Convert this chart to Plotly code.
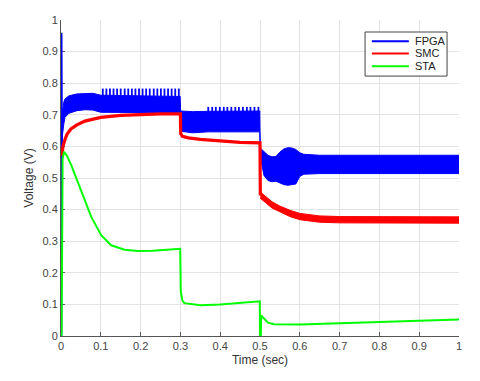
import plotly.graph_objects as go

# ---------------- data ----------------
# FPGA (blue): spike at start, then oscillating band (upper / lower envelope)
fpga_spike_t = [0.0015, 0.0018, 0.0022, 0.0028]
fpga_spike_v = [0.0, 0.96, 0.70, 0.62]

fpga_t  = [0.0028, 0.004, 0.007, 0.01, 0.02, 0.04, 0.06, 0.08, 0.1, 0.2995, 0.3005, 0.33, 0.37, 0.4995, 0.5005,
           0.505, 0.51, 0.52, 0.53, 0.54, 0.55, 0.56, 0.57, 0.58, 0.59, 0.6, 0.61, 0.65, 1.0]
fpga_hi = [0.70, 0.72, 0.74, 0.750, 0.760, 0.766, 0.768, 0.768, 0.762, 0.758, 0.712, 0.710, 0.711, 0.712, 0.595,
           0.590, 0.582, 0.572, 0.567, 0.568, 0.582, 0.592, 0.596, 0.595, 0.590, 0.580, 0.575, 0.572, 0.572]
fpga_lo = [0.60, 0.64, 0.67, 0.692, 0.705, 0.713, 0.716, 0.715, 0.708, 0.706, 0.648, 0.643, 0.646, 0.646, 0.570,
           0.535, 0.508, 0.492, 0.488, 0.490, 0.485, 0.479, 0.477, 0.478, 0.481, 0.505, 0.512, 0.514, 0.514]

# comb teeth on top of the FPGA band
teeth_a_t = [0.105, 0.114, 0.123, 0.132, 0.141, 0.150, 0.160, 0.169, 0.178, 0.187, 0.196,
             0.205, 0.214, 0.223, 0.233, 0.242, 0.251, 0.260, 0.269, 0.278, 0.287, 0.296]
teeth_a_lo, teeth_a_hi = 0.750, 0.783
teeth_b_t = [0.370, 0.380, 0.389, 0.399, 0.409, 0.418, 0.428, 0.438, 0.447, 0.457, 0.467,
             0.476, 0.486, 0.496]
teeth_b_lo, teeth_b_hi = 0.705, 0.725

# SMC (red): line up to 0.5, then a thicker band
smc_t = [0.002, 0.003, 0.005, 0.01, 0.015, 0.025, 0.04, 0.06, 0.08, 0.1, 0.15, 0.2, 0.25, 0.3,
         0.3008, 0.305, 0.32, 0.35, 0.4, 0.45, 0.5, 0.5008]
smc_v = [0.57, 0.585, 0.600, 0.622, 0.638, 0.655, 0.668, 0.680, 0.687, 0.692, 0.698, 0.701, 0.703, 0.703,
         0.640, 0.632, 0.627, 0.622, 0.617, 0.613, 0.611, 0.445]
smc_band_t  = [0.5008, 0.51, 0.53, 0.55, 0.575, 0.6, 0.65, 0.7, 1.0]
smc_band_hi = [0.456, 0.446, 0.425, 0.411, 0.398, 0.388, 0.380, 0.378, 0.377]
smc_band_lo = [0.436, 0.426, 0.405, 0.393, 0.378, 0.368, 0.360, 0.358, 0.357]

# STA (green)
sta_t = [0.0015, 0.0025, 0.004, 0.0075, 0.015, 0.026, 0.051, 0.076, 0.101, 0.126, 0.16, 0.193, 0.23, 0.269, 0.2995,
         0.301, 0.305, 0.31, 0.35, 0.4, 0.45, 0.4995, 0.5, 0.502, 0.503, 0.51, 0.52, 0.535, 0.6, 0.8, 1.0]
sta_v = [0.0, 0.45, 0.56, 0.583, 0.570, 0.540, 0.461, 0.377, 0.319, 0.287, 0.273, 0.269, 0.270, 0.273, 0.276,
         0.14, 0.112, 0.104, 0.097, 0.100, 0.104, 0.110, 0.0, 0.0, 0.065, 0.055, 0.042, 0.037, 0.036, 0.044, 0.052]

series_names = ["FPGA", "SMC", "STA"]
x_ticks = [0, 0.1, 0.2, 0.3, 0.4, 0.5, 0.6, 0.7, 0.8, 0.9, 1]
y_ticks = [0, 0.1, 0.2, 0.3, 0.4, 0.5, 0.6, 0.7, 0.8, 0.9, 1]
tick_text = ["0", "0.1", "0.2", "0.3", "0.4", "0.5", "0.6", "0.7", "0.8", "0.9", "1"]

BLUE, RED, GREEN = "#0000ff", "#ff0000", "#00ff00"
FONT = "Liberation Sans, Arial, sans-serif"

def segs(ts, lo, hi):
    xs, ys = [], []
    for t in ts:
        xs += [t, t, None]
        ys += [lo, hi, None]
    return xs, ys

fig = go.Figure()

# FPGA band
fig.add_trace(go.Scatter(x=fpga_t, y=fpga_hi, mode="lines", line=dict(color=BLUE, width=1),
                         showlegend=False, hoverinfo="skip"))
fig.add_trace(go.Scatter(x=fpga_t, y=fpga_lo, mode="lines", line=dict(color=BLUE, width=1),
                         fill="tonexty", fillcolor=BLUE, showlegend=False, hoverinfo="skip"))
tx, ty = segs(teeth_a_t, teeth_a_lo, teeth_a_hi)
fig.add_trace(go.Scatter(x=tx, y=ty, mode="lines", line=dict(color=BLUE, width=1.8),
                         showlegend=False, hoverinfo="skip"))
tx, ty = segs(teeth_b_t, teeth_b_lo, teeth_b_hi)
fig.add_trace(go.Scatter(x=tx, y=ty, mode="lines", line=dict(color=BLUE, width=1.8),
                         showlegend=False, hoverinfo="skip"))
fig.add_trace(go.Scatter(x=fpga_spike_t, y=fpga_spike_v, mode="lines", line=dict(color=BLUE, width=1.5),
                         showlegend=False, hoverinfo="skip"))

# SMC
fig.add_trace(go.Scatter(x=smc_t, y=smc_v, mode="lines", line=dict(color=RED, width=3.2),
                         showlegend=False, hoverinfo="skip"))
fig.add_trace(go.Scatter(x=smc_band_t, y=smc_band_hi, mode="lines", line=dict(color=RED, width=1),
                         showlegend=False, hoverinfo="skip"))
fig.add_trace(go.Scatter(x=smc_band_t, y=smc_band_lo, mode="lines", line=dict(color=RED, width=1),
                         fill="tonexty", fillcolor=RED, showlegend=False, hoverinfo="skip"))

# STA
fig.add_trace(go.Scatter(x=sta_t, y=sta_v, mode="lines", line=dict(color=GREEN, width=2),
                         showlegend=False, hoverinfo="skip"))

# ---- legend box drawn in paper coordinates (MATLAB-style compact legend) ----
lg_x0, lg_x1, lg_y0, lg_y1 = 0.764, 0.970, 0.8225, 0.962
line_x0, line_x1, text_x = 0.781, 0.874, 0.884
entry_y = [0.933, 0.894, 0.854]
shapes = [dict(type="rect", xref="paper", yref="paper", x0=lg_x0, x1=lg_x1, y0=lg_y0, y1=lg_y1,
               line=dict(color="#444444", width=1), fillcolor="white", layer="above")]
annotations = []
for name, col, yy in zip(series_names, [BLUE, RED, GREEN], entry_y):
    shapes.append(dict(type="line", xref="paper", yref="paper", x0=line_x0, x1=line_x1, y0=yy, y1=yy,
                       line=dict(color=col, width=2), layer="above"))
    annotations.append(dict(xref="paper", yref="paper", x=text_x, y=yy, text=name, showarrow=False,
                            xanchor="left", yanchor="middle",
                            font=dict(family=FONT, size=11, color="#222222")))

axis_common = dict(
    showgrid=True, gridcolor="#e3e3e3", gridwidth=1,
    showline=True, linecolor="#555555", linewidth=1,
    ticks="inside", ticklen=4, tickcolor="#555555",
    zeroline=False, mirror=False, automargin=False, layer="below traces",
    tickfont=dict(family=FONT, size=11, color="#444444"),
    ticktext=tick_text,
)

fig.update_xaxes(range=[0, 1], tickvals=x_ticks, **axis_common,
                 title=dict(text="Time (sec)", standoff=4, font=dict(family=FONT, size=12, color="#333333")))
fig.update_yaxes(range=[0, 1], tickvals=y_ticks, **axis_common,
                 title=dict(text="Voltage (V)", standoff=6, font=dict(family=FONT, size=12, color="#333333")))

fig.update_layout(
    width=480, height=381,
    margin=dict(l=61, r=21, t=20, b=45),
    paper_bgcolor="white", plot_bgcolor="white",
    showlegend=False,
    shapes=shapes, annotations=annotations,
)

fig.write_html("out.html", config={"displayModeBar": False},
               post_script="document.body.style.margin='0';")
